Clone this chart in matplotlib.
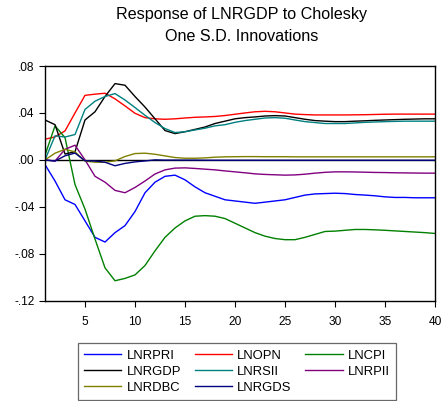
import numpy as np
import matplotlib
matplotlib.use("Agg")
import matplotlib.pyplot as plt
from matplotlib.ticker import FuncFormatter

plt.rcParams['font.family'] = ['Liberation Sans', 'DejaVu Sans']

# horizonte das respostas (40 periodos)
periodos = np.arange(1, 41)

# respostas de LNRGDP a cada choque
lnrpri = [-0.004, -0.018, -0.034, -0.038, -0.052, -0.066, -0.070, -0.062, -0.056, -0.044,
          -0.028, -0.019, -0.014, -0.013, -0.017, -0.023, -0.028, -0.031, -0.034, -0.035,
          -0.036, -0.037, -0.036, -0.035, -0.034, -0.032, -0.030, -0.029, -0.0287, -0.0284,
          -0.0287, -0.0295, -0.030, -0.0306, -0.0315, -0.032, -0.032, -0.0323, -0.0323, -0.0323]
lnopn = [0.0176, 0.0196, 0.0247, 0.040, 0.055, 0.056, 0.0568, 0.052, 0.046, 0.0397,
         0.036, 0.035, 0.0346, 0.035, 0.0357, 0.0363, 0.0366, 0.037, 0.0378, 0.0389,
         0.040, 0.041, 0.0414, 0.041, 0.040, 0.039, 0.0386, 0.0383, 0.0383, 0.0383,
         0.0383, 0.0384, 0.0385, 0.0387, 0.0389, 0.039, 0.039, 0.039, 0.039, 0.039]
lncpi = [0.004, 0.029, 0.019, -0.021, -0.042, -0.0675, -0.092, -0.103, -0.101, -0.098,
         -0.090, -0.0775, -0.066, -0.058, -0.052, -0.048, -0.0475, -0.048, -0.050, -0.054,
         -0.058, -0.062, -0.065, -0.067, -0.068, -0.068, -0.066, -0.0635, -0.061, -0.0607,
         -0.060, -0.0593, -0.0593, -0.0596, -0.060, -0.0605, -0.061, -0.0615, -0.062, -0.0627]
lnrgdp = [0.034, 0.030, 0.005, 0.007, 0.034, 0.041, 0.054, 0.065, 0.0636, 0.054,
          0.045, 0.035, 0.025, 0.0224, 0.024, 0.026, 0.028, 0.031, 0.033, 0.035,
          0.036, 0.0366, 0.0374, 0.0377, 0.0374, 0.036, 0.0346, 0.0335, 0.033, 0.0326,
          0.0326, 0.033, 0.0333, 0.0337, 0.034, 0.0343, 0.0346, 0.0348, 0.035, 0.035]
lnrsii = [0.000, 0.0205, 0.0195, 0.0216, 0.043, 0.050, 0.054, 0.0565, 0.051, 0.0446,
          0.038, 0.0318, 0.0267, 0.0233, 0.024, 0.0255, 0.027, 0.029, 0.030, 0.032,
          0.0335, 0.0346, 0.0357, 0.036, 0.0355, 0.034, 0.0326, 0.0318, 0.031, 0.031,
          0.031, 0.0315, 0.032, 0.0323, 0.0326, 0.0328, 0.033, 0.033, 0.033, 0.033]
lnrpii = [0.000, -0.001, 0.009, 0.0125, 0.000, -0.014, -0.019, -0.026, -0.028, -0.0235,
          -0.018, -0.012, -0.0085, -0.007, -0.0068, -0.0073, -0.0079, -0.0085, -0.0094, -0.0102,
          -0.011, -0.0119, -0.0124, -0.0127, -0.013, -0.0128, -0.0122, -0.0113, -0.0106, -0.0102,
          -0.0102, -0.0103, -0.0105, -0.0107, -0.0108, -0.011, -0.0111, -0.0112, -0.0113, -0.0113]
lnrdbc = [0.000, 0.0057, 0.009, 0.0068, -0.001, -0.002, -0.002, -0.0008, 0.0029, 0.0054,
          0.0057, 0.0048, 0.0034, 0.002, 0.0014, 0.0014, 0.0017, 0.0023, 0.0026, 0.0027,
          0.0028, 0.0028, 0.0027, 0.0027, 0.0027, 0.0026, 0.0026, 0.0026, 0.0026, 0.0026,
          0.0026, 0.0026, 0.0026, 0.0026, 0.0026, 0.0026, 0.0026, 0.0026, 0.0026, 0.0026]
lnrgds = [0.000, -0.001, 0.0035, 0.0058, -0.0008, -0.001, -0.002, -0.005, -0.003, -0.0017,
          -0.0009, 0.000, -0.0002, -0.0002, -0.0002, -0.0002, -0.0003, -0.0003, -0.0003, -0.0003,
          -0.0003, -0.0003, -0.0003, -0.0003, -0.0003, -0.0003, -0.0003, -0.0003, -0.0003, -0.0003,
          -0.0003, -0.0003, -0.0003, -0.0003, -0.0003, -0.0003, -0.0003, -0.0003, -0.0003, -0.0003]

series = [("LNRPRI", lnrpri, "#0000FF"), ("LNOPN", lnopn, "#FF0000"),
          ("LNCPI", lncpi, "#008000"), ("LNRGDP", lnrgdp, "#000000"),
          ("LNRSII", lnrsii, "#008080"), ("LNRPII", lnrpii, "#800080"),
          ("LNRDBC", lnrdbc, "#808000"), ("LNRGDS", lnrgds, "#000080")]

yticks = [-0.12, -0.08, -0.04, 0.00, 0.04, 0.08]
xticks = [5, 10, 15, 20, 25, 30, 35, 40]

fig = plt.figure(figsize=(4.43, 4.01), dpi=100)
ax = fig.add_axes([0.1016, 0.2501, 0.8804, 0.5853])

ax.axhline(0, color="black", lw=1.0, zorder=1)
linhas = {}
for nome, vals, cor in series:
    linhas[nome], = ax.plot(periodos, vals, color=cor, lw=1.0, label=nome, zorder=2)

ax.set_xlim(1, 40)
ax.set_ylim(-0.12, 0.08)
ax.set_xticks(xticks)
ax.set_yticks(yticks)

def fmt(v, pos):
    s = "%.2f" % v
    return s.replace("0.", ".", 1)

ax.yaxis.set_major_formatter(FuncFormatter(fmt))
ax.tick_params(axis="both", direction="out", length=4.3, width=0.8, labelsize=8.6, colors="black")
ax.tick_params(axis="x", pad=7)
ax.tick_params(axis="y", pad=3)
for sp in ax.spines.values():
    sp.set_linewidth(1.0)
    sp.set_color("black")

fig.text(0.546, 0.9626, "Response of LNRGDP to Cholesky", ha="center", va="center", fontsize=11.6)
fig.text(0.546, 0.910, "One S.D. Innovations", ha="center", va="center", fontsize=11.6)

# ordem por colunas para que as linhas da legenda leiam como no grafico
ordem = ["LNRPRI", "LNRGDP", "LNRDBC", "LNOPN", "LNRSII", "LNRGDS", "LNCPI", "LNRPII"]
leg = fig.legend([linhas[n] for n in ordem], ordem, ncol=3, loc="upper left",
                 bbox_to_anchor=(0.1755, 0.1446), fontsize=9.4, handlelength=2.85,
                 handletextpad=0.4, columnspacing=1.05, labelspacing=0.3,
                 borderpad=0.5, borderaxespad=0, frameon=True, fancybox=False)
leg.get_frame().set_edgecolor("#444444")
leg.get_frame().set_linewidth(0.9)

fig.savefig("out.png", dpi=100)
